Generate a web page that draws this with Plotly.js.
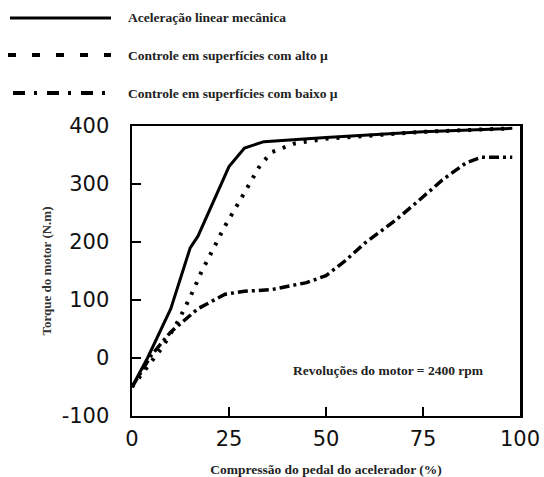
<!DOCTYPE html>
<html><head><meta charset="utf-8">
<script src="https://cdn.plot.ly/plotly-3.0.1.min.js"></script>
<style>html,body{margin:0;padding:0;background:#fff;}#chart{width:544px;height:477px;}</style>
</head><body><div id="chart"></div>
<script>
const seriesNames = ["Aceleração linear mecânica", "Controle em superfícies com alto µ", "Controle em superfícies com baixo µ"];
const mechX = [0, 4, 10, 15, 17, 25, 29, 34, 50, 75, 98];
const mechY = [-50, 0, 85, 190, 210, 330, 362, 373, 380, 390, 396];
const highX = [0, 4, 8, 12, 15, 18, 21, 24, 27, 30, 33, 36, 42, 50, 75, 98];
const highY = [-50, -15, 20, 65, 105, 150, 190, 228, 262, 298, 332, 355, 370, 378, 390, 396];
const lowX = [0, 5, 10, 17, 24, 29, 36, 45, 50, 55, 60, 68, 74, 80, 86, 90, 98];
const lowY = [-50, 5, 45, 85, 110, 115, 118, 130, 142, 168, 198, 238, 272, 307, 336, 346, 346];
const xTicks = [0, 25, 50, 75, 100];
const yTicks = [-100, 0, 100, 200, 300, 400];

const dashes = ["solid", "3px,8px", "10px,4px,3px,4px"];
const widths = [3, 4, 3.5];
const legendDashes = ["solid", "8px,16px", "12px,9px,3px,10px"];
const legendStart = [10, 8, 13];

const traces = [
  {x: mechX, y: mechY, name: seriesNames[0], mode: "lines", line: {color: "#000", width: widths[0], dash: dashes[0]}},
  {x: highX, y: highY, name: seriesNames[1], mode: "lines", line: {color: "#000", width: widths[1], dash: dashes[1]}},
  {x: lowX, y: lowY, name: seriesNames[2], mode: "lines", line: {color: "#000", width: widths[2], dash: dashes[2]}}
];

const W = 544, H = 477;
const legRows = [18, 55, 93];
const shapes = [];
const annotations = [];
const serif = "'Liberation Serif', serif";
const sans = "'DejaVu Sans', sans-serif";
seriesNames.forEach((n, i) => {
  shapes.push({type: "line", xref: "paper", yref: "paper",
    x0: (legendStart[i] - 132) / 388, x1: (111 - 132) / 388,
    y0: (416 - legRows[i]) / 290, y1: (416 - legRows[i]) / 290,
    line: {color: "#000", width: i === 0 ? 3 : 4, dash: legendDashes[i]}});
  annotations.push({xref: "paper", yref: "paper", x: (126 - 132) / 388, y: (416 - legRows[i]) / 290,
    xanchor: "left", yanchor: "middle", text: "<b>" + n + "</b>", showarrow: false,
    font: {family: serif, size: 13.5, color: "#222"}});
});
annotations.push({xref: "paper", yref: "paper", x: (388 - 132) / 388, y: (416 - 370) / 290,
  xanchor: "center", yanchor: "middle", text: "<b>Revoluções do motor = 2400 rpm</b>", showarrow: false,
  font: {family: serif, size: 13.5, color: "#222"}});

const layout = {
  width: W, height: H,
  margin: {l: 132, r: 24, t: 126, b: 61},
  paper_bgcolor: "#fff", plot_bgcolor: "#fff",
  showlegend: false,
  xaxis: {range: [0, 100], tickvals: xTicks, ticktext: xTicks.map(String),
    showgrid: false, zeroline: false, showline: true, linecolor: "#000", linewidth: 2, mirror: true,
    ticks: "inside", ticklen: 9, tickwidth: 2, tickcolor: "#000", ticklabelstandoff: 3,
    tickfont: {family: sans, size: 21, color: "#111"},
    title: {text: "<b>Compressão do pedal do acelerador (%)</b>", font: {family: serif, size: 13.5, color: "#222"}, standoff: 14}},
  yaxis: {range: [-100, 400], tickvals: yTicks, ticktext: yTicks.map(String),
    showgrid: false, zeroline: false, showline: true, linecolor: "#000", linewidth: 2.5, mirror: true,
    ticks: "inside", ticklen: 9, tickwidth: 2, tickcolor: "#000", ticklabelstandoff: 16,
    tickfont: {family: sans, size: 21, color: "#111"},
    title: {text: "<b>Torque do motor (N.m)</b>", font: {family: serif, size: 13, color: "#333"}, standoff: 7}},
  shapes: shapes,
  annotations: annotations
};
Plotly.newPlot("chart", traces, layout, {displayModeBar: false, staticPlot: true});
</script></body></html>
